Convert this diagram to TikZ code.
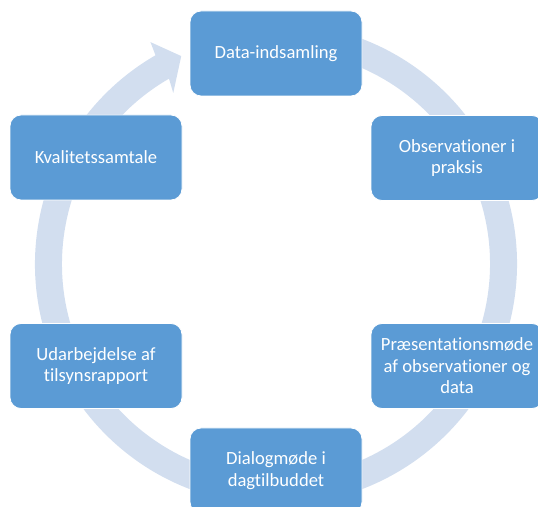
\documentclass[tikz,border=0pt]{standalone}
\usepackage{fontspec}
\setmainfont{Carlito}[RawFeature={-liga}]
\definecolor{boxblue}{RGB}{91,155,213}
\definecolor{ringblue}{RGB}{210,222,239}
\tikzset{
  stepbox/.style={draw=white, line width=0.8pt, fill=boxblue, rounded corners=11pt,
    minimum width=172pt, minimum height=85pt, text=white, align=center,
    font=\fontsize{18.6pt}{21.5pt}\selectfont, inner sep=2pt},
  ringfill/.style={fill=ringblue}
}
\begin{document}
\begin{tikzpicture}[x=1pt,y=1pt]
\useasboundingbox (0,0) rectangle (538,506);
\clip (0,0) rectangle (538,506);
\coordinate (C) at (276,242);
% ring with arrow head
\fill[ringfill] ([shift={(C)}]80:241pt) arc[start angle=80, end angle=-240, radius=241pt]
  -- ([shift={(C)}]-240.5:255pt)
  -- ([shift={(C)}]-245.5:228.5pt)
  -- ([shift={(C)}]-239:199.5pt)
  -- ([shift={(C)}]-240:214pt)
  arc[start angle=-240, end angle=80, radius=214pt] -- cycle;
% boxes
\node[stepbox] (data) at (276,452.5) {Data-indsamling};
\node[stepbox] (obs) at (457,348) {Observationer i\\praksis};
\node[stepbox] (praes) at (457,140) {Præsentationsmøde\\af observationer og\\data};
\node[stepbox] (dialog) at (276,35.5) {Dialogmøde i\\dagtilbuddet};
\node[stepbox] (udarb) at (96,140) {Udarbejdelse af\\tilsynsrapport};
\node[stepbox] (kval) at (96,348.5) {Kvalitetssamtale};
\end{tikzpicture}
\end{document}
